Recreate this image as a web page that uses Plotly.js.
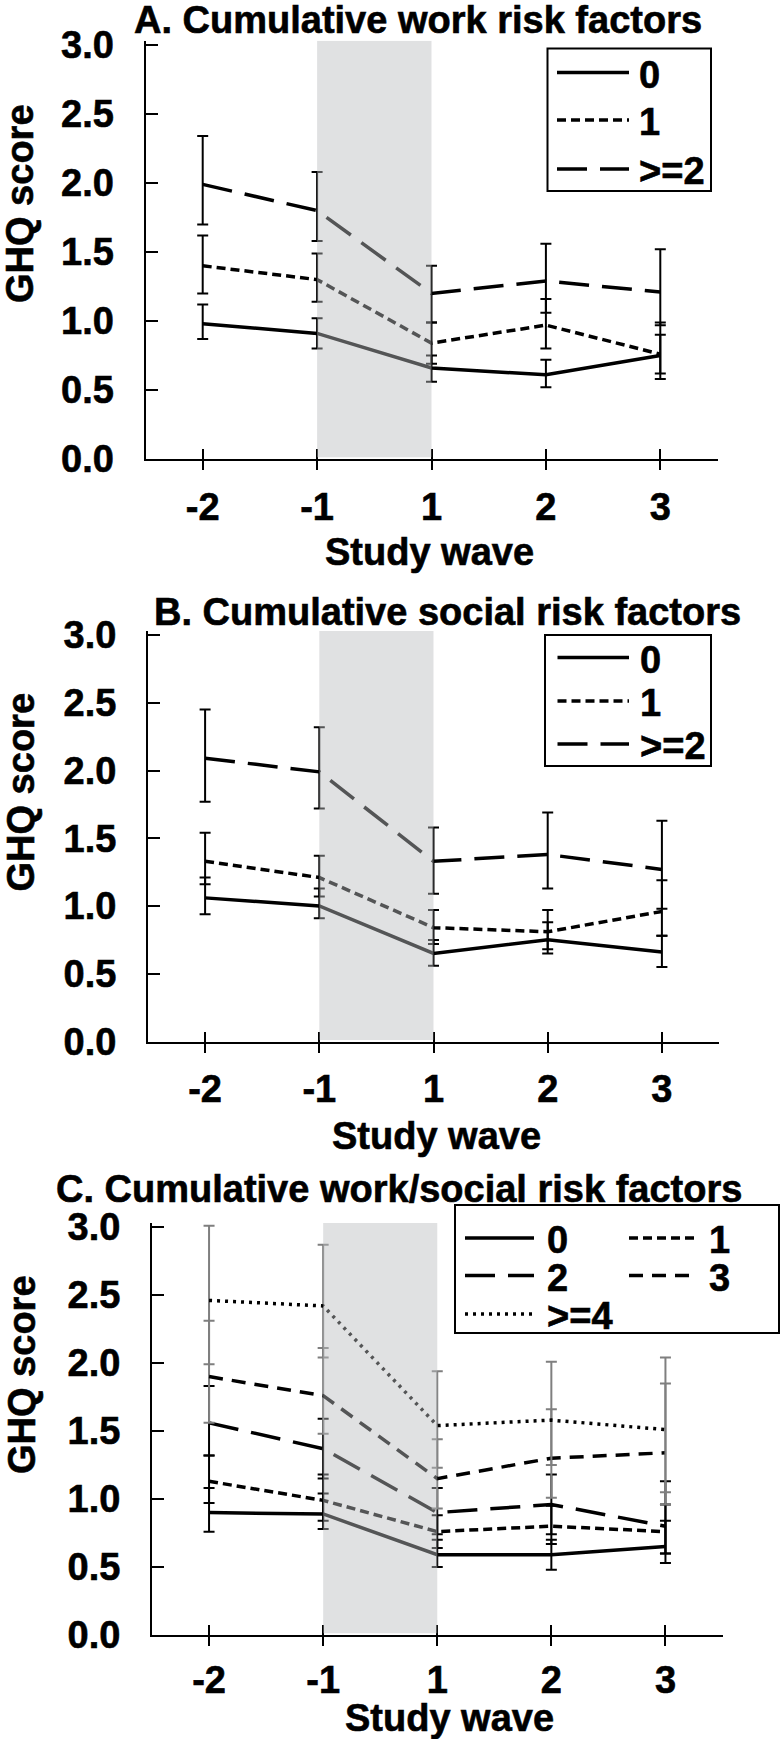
<!DOCTYPE html>
<html><head><meta charset="utf-8">
<script src="https://cdn.plot.ly/plotly-3.0.1.min.js"></script>
<style>
html,body{margin:0;padding:0;background:#fff;}
#chart text{stroke:#000;stroke-width:0.6px;}
</style>
</head><body>
<div id="chart" style="width:780px;height:1739px;"></div>
<script>
// ---------- data ----------
const waves = ['-2', '-1', '1', '2', '3'];

// Panel A: cumulative work risk factors
const workLabels = ['0', '1', '>=2'];
const work0   = [0.98, 0.91, 0.66, 0.61, 0.75];
const work0Hi = [1.12, 1.02, 0.75, 0.72, 0.90];
const work0Lo = [0.87, 0.80, 0.56, 0.52, 0.62];
const work1   = [1.40, 1.30, 0.84, 0.97, 0.76];
const work1Hi = [1.62, 1.49, 0.99, 1.16, 0.99];
const work1Lo = [1.20, 1.14, 0.69, 0.80, 0.58];
const work2   = [1.99, 1.80, 1.20, 1.29, 1.21];
const work2Hi = [2.34, 2.08, 1.40, 1.56, 1.52];
const work2Lo = [1.70, 1.58, 0.99, 1.06, 0.97];

// Panel B: cumulative social risk factors
const socialLabels = ['0', '1', '>=2'];
const social0   = [1.06, 1.00, 0.65, 0.75, 0.66];
const social0Hi = [1.21, 1.13, 0.75, 0.88, 0.78];
const social0Lo = [0.94, 0.91, 0.56, 0.65, 0.55];
const social1   = [1.33, 1.21, 0.84, 0.81, 0.96];
const social1Hi = [1.54, 1.37, 0.97, 0.97, 1.19];
const social1Lo = [1.16, 1.07, 0.72, 0.68, 0.78];
const social2   = [2.09, 1.99, 1.33, 1.38, 1.27];
const social2Hi = [2.45, 2.32, 1.58, 1.69, 1.63];
const social2Lo = [1.77, 1.72, 1.09, 1.13, 0.98];

// Panel C: cumulative work/social risk factors
const bothLabels = ['0', '1', '2', '3', '>=4'];
const both0   = [0.90, 0.89, 0.59, 0.59, 0.65];
const both0Hi = [1.08, 1.04, 0.70, 0.70, 0.84];
const both0Lo = [0.76, 0.78, 0.50, 0.48, 0.53];
const both1   = [1.13, 0.99, 0.76, 0.80, 0.76];
const both1Hi = [1.32, 1.18, 0.88, 0.95, 0.96];
const both1Lo = [0.97, 0.84, 0.64, 0.67, 0.60];
const both2   = [1.56, 1.37, 0.90, 0.96, 0.80];
const both2Hi = [1.83, 1.59, 1.08, 1.18, 1.13];
const both2Lo = [1.32, 1.15, 0.74, 0.74, 0.60];
const both3   = [1.90, 1.76, 1.15, 1.30, 1.34];
const both3Hi = [2.31, 2.11, 1.44, 1.66, 1.85];
const both3Lo = [1.56, 1.48, 0.93, 1.01, 0.96];
const both4   = [2.46, 2.42, 1.54, 1.58, 1.51];
const both4Hi = [3.01, 2.87, 1.94, 2.01, 2.04];
const both4Lo = [1.99, 2.04, 1.23, 1.25, 1.05];

const panelTitles = ['A. Cumulative work risk factors',
                     'B. Cumulative social risk factors',
                     'C. Cumulative work/social risk factors'];
const xTitle = 'Study wave';
const yTitle = 'GHQ score';
const yTickVals = [0, 0.5, 1, 1.5, 2, 2.5, 3];

// ---------- styling ----------
const W = 780, H = 1739;
const FONT = 'Liberation Sans, Arial, Helvetica, sans-serif';
const FS = 38;
const dashFor = {'0': 'solid', '1': '9px,5px', '>=2': '30px,13px', '2': '30px,13px',
                 '3': '14px,9px', '>=4': '3px,5px'};
const px = v => v / W;
const py = v => 1 - v / H;
const bold = (s) => ({family: FONT, size: s || FS, color: '#000', weight: 'bold'});

const panels = [
  {labels: workLabels, vals: [work0, work1, work2], hi: [work0Hi, work1Hi, work2Hi], lo: [work0Lo, work1Lo, work2Lo],
   errColor: ['#000', '#000', '#000'],
   left: 145.5, right: 717.5, zeroY: 459, unit: 138, ax: '', tick: 4, standoff: 4,
   title: [418, 20], xt: [429, 552], yt: [20, 204],
   legBox: [547.5, 48.5, 711, 191],
   legItems: [[557, 629, 637, 72.5], [557, 629, 637, 120], [557, 629, 637, 169]]},
  {labels: socialLabels, vals: [social0, social1, social2], hi: [social0Hi, social1Hi, social2Hi], lo: [social0Lo, social1Lo, social2Lo],
   errColor: ['#000', '#000', '#000'],
   left: 148, right: 719, zeroY: 1041.5, unit: 135.5, ax: '2', tick: 5, standoff: 4,
   title: [447.5, 612.5], xt: [436, 1136], yt: [20, 792.5],
   legBox: [545, 635, 711, 766],
   legItems: [[557.5, 629, 637.5, 657.5], [557.5, 629, 637.5, 701], [557.5, 629, 637.5, 744]]},
  {labels: bothLabels, vals: [both0, both1, both2, both3, both4], hi: [both0Hi, both1Hi, both2Hi, both3Hi, both4Hi],
   lo: [both0Lo, both1Lo, both2Lo, both3Lo, both4Lo],
   errColor: ['#000', '#000', '#000', '#7f7f7f', '#7f7f7f'],
   left: 152, right: 722.5, zeroY: 1635, unit: 136, ax: '3', tick: 6, standoff: 1,
   title: [399, 1189], xt: [449.5, 1718], yt: [22, 1375],
   legBox: [455, 1205, 779, 1333],
   legItems: [[465, 534, 545, 1238], [629, 697.5, 707, 1238], [465, 534, 545, 1275.5],
              [629, 697.5, 707, 1275.5], [465, 534, 545, 1314]]}
];

const YTOP = 3.03;
const traces = [];
const layout = {
  width: W, height: H, margin: {l: 0, r: 0, t: 0, b: 0},
  paper_bgcolor: '#fff', plot_bgcolor: 'rgba(0,0,0,0)',
  showlegend: false,
  font: bold(),
  shapes: [], annotations: []
};

panels.forEach((p, pi) => {
  const xa = 'x' + p.ax, ya = 'y' + p.ax;
  const xDom = [px(p.left), px(p.right)];
  const yDom = [py(p.zeroY), py(p.zeroY - YTOP * p.unit)];
  layout['xaxis' + p.ax] = {
    domain: xDom, anchor: ya, type: 'category', categoryorder: 'array', categoryarray: waves,
    range: [-0.5, 4.5], showline: true, linewidth: 2, linecolor: '#000',
    ticks: 'outside', ticklen: 9, tickwidth: 2, tickcolor: '#000',
    showgrid: false, zeroline: false, ticklabelstandoff: p.standoff,
    tickfont: bold()
  };
  layout['xaxis' + p.tick] = {
    overlaying: xa, anchor: ya, range: [-0.5, 4.5], tickvals: [0, 1, 2, 3, 4, 4.5],
    ticks: 'inside', ticklen: 10, tickwidth: 2, tickcolor: '#000',
    showticklabels: false, showline: false, showgrid: false, zeroline: false
  };
  layout['yaxis' + p.ax] = {
    domain: yDom, anchor: xa, range: [0, YTOP], tickvals: yTickVals, tickformat: '.1f',
    ticks: 'inside', ticklen: 12, tickwidth: 2, tickcolor: '#000',
    showline: true, linewidth: 2, linecolor: '#000', showgrid: false, zeroline: false,
    ticklabelstandoff: 22,
    tickfont: bold()
  };

  p.labels.forEach((lab, si) => {
    const v = p.vals[si];
    traces.push({
      type: 'scatter', mode: 'lines', x: waves, y: v, name: lab,
      xaxis: xa, yaxis: ya,
      line: {color: '#000', width: 3.5, dash: dashFor[lab]},
      error_y: {type: 'data', symmetric: false,
                array: p.hi[si].map((h, i) => h - v[i]),
                arrayminus: p.lo[si].map((l, i) => v[i] - l),
                color: p.errColor[si], thickness: 2, width: 5.5},
      hoverinfo: 'skip'
    });
  });

  // shaded period (drawn above, semi-transparent, as in the original)
  layout.shapes.push({type: 'rect', layer: 'above', xref: 'x' + p.tick, yref: ya,
    x0: 1, x1: 2, y0: 0.012, y1: YTOP, line: {width: 0},
    fillcolor: 'rgba(186,188,191,0.45)'});

  // legend box
  const b = p.legBox;
  layout.shapes.push({type: 'rect', xref: 'paper', yref: 'paper',
    x0: px(b[0]), x1: px(b[2]), y0: py(b[3]), y1: py(b[1]),
    line: {color: '#000', width: 2}, fillcolor: 'rgba(0,0,0,0)'});
  p.labels.forEach((lab, si) => {
    const it = p.legItems[si];
    layout.shapes.push({type: 'line', xref: 'paper', yref: 'paper',
      x0: px(it[0]), x1: px(it[1]), y0: py(it[3]), y1: py(it[3]),
      line: {color: '#000', width: 3.5, dash: dashFor[lab]}});
    layout.annotations.push({xref: 'paper', yref: 'paper', x: px(it[2]), y: py(it[3] + 2),
      xanchor: 'left', yanchor: 'middle', text: lab, showarrow: false, font: bold()});
  });

  // titles
  layout.annotations.push({xref: 'paper', yref: 'paper', x: px(p.title[0]), y: py(p.title[1]),
    xanchor: 'center', yanchor: 'middle', text: panelTitles[pi], showarrow: false, font: bold()});
  layout.annotations.push({xref: 'paper', yref: 'paper', x: px(p.xt[0]), y: py(p.xt[1]),
    xanchor: 'center', yanchor: 'middle', text: xTitle, showarrow: false, font: bold()});
  layout.annotations.push({xref: 'paper', yref: 'paper', x: px(p.yt[0]), y: py(p.yt[1]),
    xanchor: 'center', yanchor: 'middle', text: yTitle, showarrow: false, textangle: -90, font: bold()});
});

Plotly.newPlot('chart', traces, layout, {staticPlot: true});
</script>
</body></html>
